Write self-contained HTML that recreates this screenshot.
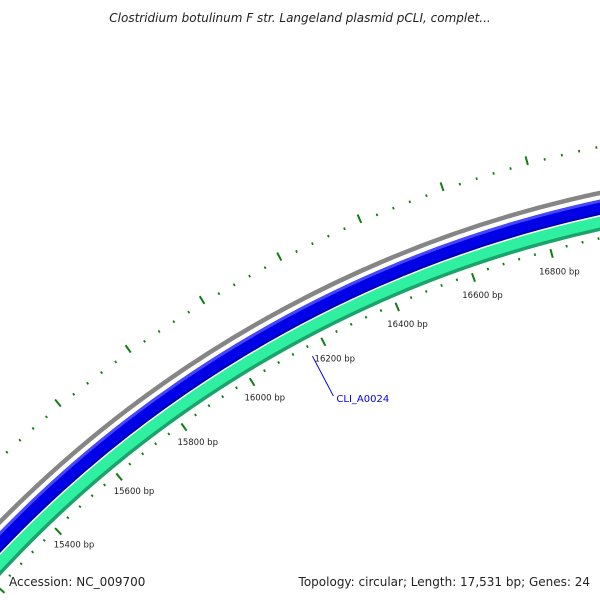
<!DOCTYPE html>
<html><head><meta charset="utf-8"><style>
html,body{margin:0;padding:0;background:#fff;overflow:hidden;}
svg{display:block;font-family:"DejaVu Sans","Liberation Sans",sans-serif;}
</style></head><body>
<svg id="map" width="600" height="600" viewBox="0 0 600 600" xmlns="http://www.w3.org/2000/svg">
<text x="300" y="22" text-anchor="middle" font-size="12" font-style="italic" fill="#222">Clostridium botulinum F str. Langeland plasmid pCLI, complet...</text>
<g id="rings"></g>
<g id="ticks"></g>
<text x="9" y="586" font-size="12" fill="#222">Accession: NC_009700</text>
<text x="590" y="586" text-anchor="end" font-size="12" fill="#222">Topology: circular; Length: 17,531 bp; Genes: 24</text>
</svg>
<script>
const seqLength = 17531;
const featureNames = ["backbone","CLI_A0024","orf-reverse"];
const featureStarts = [0, 14500, 14500];
const featureEnds = [17531, 17531, 17531];
const tickStart = 15200;
const tickEnd = 17531;
const tickMinorStep = 40;
const tickMajorStep = 200;
const geneLabels = ["CLI_A0024"];
const geneLabelBp = [16160];

const CX = 847, CY = 1355;
const NS = "http://www.w3.org/2000/svg";
function ang(bp){ return bp / seqLength * 2 * Math.PI; }
function pt(bp, r){ const a = ang(bp); return [CX + r*Math.sin(a), CY - r*Math.cos(a)]; }
function arcPath(s, e, r){
  const p1 = pt(s, r), p2 = pt(Math.min(e, s + seqLength*0.999), r);
  const large = (e - s) > seqLength/2 ? 1 : 0;
  return `M${p1[0]},${p1[1]} A${r},${r} 0 ${large} 1 ${p2[0]},${p2[1]}`;
}
const rings = document.getElementById('rings');
function ring(s, e, r, w, col, name){
  const p = document.createElementNS(NS, 'path');
  p.setAttribute('d', arcPath(s, e, r));
  p.setAttribute('fill', 'none');
  p.setAttribute('stroke', col);
  p.setAttribute('stroke-width', w);
  
  
  rings.appendChild(p);
}
ring(featureStarts[0], featureEnds[0], 1188, 4.5, '#858585', 'backbone-ring');
ring(featureStarts[1], featureEnds[1], 1174, 15, '#0000e6', 'gene-cli-a0024');
ring(featureStarts[1], featureEnds[1], 1180, 3, '#4646ff', 'gene-cli-a0024-highlight');
ring(featureStarts[1], featureEnds[1], 1167.5, 2, '#0000b0', 'gene-cli-a0024-shadow');
ring(featureStarts[2], featureEnds[2], 1159, 12, '#2ef0a0', 'reverse-gene');
ring(featureStarts[2], featureEnds[2], 1152.5, 3.5, '#1ca36c', 'reverse-gene-shadow');

const ticks = document.getElementById('ticks');
function line(a, b, w, col, name){
  const l = document.createElementNS(NS, 'line');
  l.setAttribute('x1', a[0]); l.setAttribute('y1', a[1]);
  l.setAttribute('x2', b[0]); l.setAttribute('y2', b[1]);
  l.setAttribute('stroke', col); l.setAttribute('stroke-width', w);
  
  
  ticks.appendChild(l);
}
for (let bp = tickStart; bp <= tickEnd; bp += tickMinorStep){
  const major = bp % tickMajorStep === 0;
  line(pt(bp, 1145), pt(bp, major ? 1136 : 1142.5), major ? 2 : 1.8, '#137d13', major ? 'inner-major-tick' : 'inner-minor-tick');
  line(pt(bp, 1232), pt(bp, major ? 1241 : 1234.5), major ? 2 : 1.8, '#137d13', major ? 'outer-major-tick' : 'outer-minor-tick');
  if (major){
    const c = pt(bp, 1122);
    if (c[1] > 560 || c[0] < 10) continue;
    const t = document.createElementNS(NS, 'text');
    t.setAttribute('x', c[0] + 3); t.setAttribute('y', c[1] + 3);
    t.setAttribute('text-anchor', 'middle');
    t.setAttribute('font-size', '8.5');
    t.setAttribute('fill', '#222');
    t.textContent = bp + ' bp';
    
    
    ticks.appendChild(t);
  }
}
geneLabels.forEach((g, i) => {
  const a = pt(geneLabelBp[i], 1133);
  const b = [a[0] + 21, a[1] + 40];
  line(a, b, 1, '#0000ee', 'gene-label-leader');
  const t = document.createElementNS(NS, 'text');
  t.setAttribute('x', b[0] + 3); t.setAttribute('y', b[1] + 6);
  t.setAttribute('font-size', '10');
  t.setAttribute('fill', '#0000ee');
  t.textContent = g;
  
  
  ticks.appendChild(t);
});
</script>
</body></html>
